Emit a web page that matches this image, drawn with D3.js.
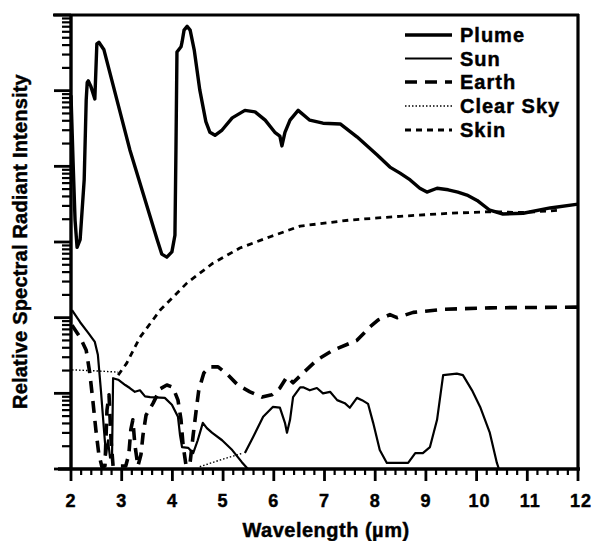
<!DOCTYPE html>
<html><head><meta charset="utf-8">
<script src="https://cdn.jsdelivr.net/npm/d3@7"></script>
<style>
html,body{margin:0;padding:0;background:#fff;}
svg{display:block;}
text{font-family:"Liberation Sans",Arial,Helvetica,sans-serif;font-weight:bold;fill:#000;stroke:#000;stroke-width:0.45px;}
</style></head>
<body><svg id="chart" width="594" height="541"></svg>
<script>
// ---- data (wavelength in µm, intensity given as log10 of relative intensity) ----
const xTickValues = [2,3,4,5,6,7,8,9,10,11,12];
const legendNames = ["Plume","Sun","Earth","Clear Sky","Skin"];

const plumeWl  = [2.00,2.04,2.08,2.12,2.18,2.26,2.30,2.32,2.34,2.39,2.47,2.51,2.55,2.65,3.16,3.70,3.79,3.89,3.99,4.05,4.07,4.09,4.17,4.19,4.23,4.29,4.35,4.43,4.54,4.66,4.74,4.84,4.98,5.18,5.43,5.63,5.83,6.02,6.12,6.16,6.22,6.32,6.48,6.71,6.97,7.31,7.64,8.04,8.29,8.49,8.69,8.88,9.02,9.22,9.44,9.63,9.81,10.01,10.26,10.52,10.92,11.45,12.00];
const plumeLogI= [4.94,4.08,3.29,2.93,3.03,3.82,4.88,5.11,5.13,5.06,4.89,5.62,5.64,5.54,4.22,3.03,2.84,2.80,2.87,3.09,4.22,5.51,5.58,5.64,5.80,5.85,5.80,5.54,5.01,4.59,4.45,4.41,4.48,4.64,4.74,4.72,4.61,4.45,4.40,4.27,4.45,4.61,4.74,4.61,4.57,4.56,4.39,4.15,3.99,3.91,3.82,3.71,3.66,3.71,3.69,3.66,3.62,3.55,3.42,3.37,3.38,3.45,3.50];

const sunWl    = [2.02,2.18,2.34,2.47,2.53,2.59,2.65,2.69,2.73,2.77,2.81,2.83,2.93,3.07,3.16,3.26,3.36,3.46,3.56,3.85,3.99,4.11,4.15,4.19,4.31,4.41,4.50,4.60,4.68,4.78,4.98,5.18,5.37,5.49,
                  null,
                  5.43,5.59,5.79,5.98,6.12,6.22,6.26,6.32,6.38,6.52,6.58,6.71,6.85,6.97,7.11,7.25,7.40,7.50,7.64,7.74,7.86,7.96,8.09,8.23,8.65,8.79,8.94,9.08,9.22,9.34,9.61,9.73,9.91,10.07,10.26,10.40,10.44];
const sunLogI  = [2.10,1.94,1.80,1.68,1.51,1.04,0.52,0.19,0.38,0.15,0.19,1.20,1.18,1.11,1.07,1.02,1.04,0.96,0.95,0.94,0.85,0.69,0.45,0.29,0.28,0.21,0.38,0.61,0.54,0.48,0.38,0.25,0.09,0.00,
                  null,
                  0.21,0.42,0.69,0.82,0.81,0.61,0.48,0.65,0.95,1.08,1.08,1.04,1.07,1.00,1.02,0.91,0.87,0.81,0.94,0.91,0.86,0.61,0.25,0.08,0.08,0.21,0.21,0.29,0.65,1.24,1.26,1.24,1.04,0.82,0.48,0.08,0.00];

const earthWl  = [2.02,2.18,2.30,2.37,2.43,2.49,2.55,2.61,2.67,2.71,2.75,2.79,2.83,3.08,3.14,3.18,3.22,3.26,3.32,3.38,3.42,3.48,3.62,3.76,3.89,4.01,4.11,4.17,4.21,4.27,4.35,4.41,4.47,4.52,4.62,4.74,4.90,5.10,5.29,5.53,5.77,5.96,6.12,6.26,6.38,6.58,6.85,7.17,7.64,7.90,8.06,8.29,8.43,8.75,9.34,10.26,12.00];
const earthLogI= [1.90,1.74,1.57,1.27,0.91,0.52,0.19,0.03,0.04,0.78,0.98,0.38,0.04,0.04,0.19,0.52,0.65,0.32,0.04,0.19,0.45,0.71,0.87,1.06,1.11,1.08,0.91,0.65,0.32,0.04,0.09,0.45,0.78,1.04,1.27,1.35,1.35,1.24,1.11,1.02,0.95,0.98,1.07,1.22,1.14,1.27,1.44,1.57,1.70,1.88,1.97,2.04,2.00,2.07,2.11,2.13,2.14];

const clearWl  = [2.02,2.40,2.93,null,4.54,4.90,5.39];
const clearLogI= [1.31,1.30,1.28,null,0.03,0.11,0.21];

const skinWl   = [2.93,3.10,3.36,3.76,4.29,4.80,5.33,5.93,6.52,7.50,8.49,9.48,10.26,10.90,11.65];
const skinLogI = [1.24,1.40,1.74,2.10,2.46,2.72,2.92,3.07,3.21,3.29,3.34,3.38,3.40,3.39,3.42];

// ---- layout ----
const svg = d3.select("#chart");
const L = 71, R = 578, T = 15, B = 469;
const x = d3.scaleLinear().domain([2,12]).range([L,R]);
const y = d3.scaleLog().domain([1,1e6]).range([B,T]);

function pts(wl, lg){ return wl.map((w,i)=> (w===null? null : {w:w, v:Math.pow(10, lg[i])})); }
const line = d3.line().defined(d=>d!==null).x(d=>x(d.w)).y(d=>y(d.v));

const styles = {
  "Plume":     {w:3.4, dash:null},
  "Sun":       {w:2.2, dash:null},
  "Earth":     {w:3.6, dash:"12,8"},
  "Clear Sky": {w:1.4, dash:"1.5,2"},
  "Skin":      {w:2.8, dash:"6,5"}
};
const seriesData = {
  "Plume": pts(plumeWl, plumeLogI),
  "Sun": pts(sunWl, sunLogI),
  "Earth": pts(earthWl, earthLogI),
  "Clear Sky": pts(clearWl, clearLogI),
  "Skin": pts(skinWl, skinLogI)
};

// curves
["Clear Sky","Skin","Earth","Sun","Plume"].forEach(name=>{
  const s = styles[name];
  svg.append("path").datum(seriesData[name])
    .attr("d", line).attr("fill","none").attr("stroke","#000")
    .attr("stroke-width", s.w).attr("stroke-linejoin","round")
    .attr("stroke-dasharray", s.dash);
});

// x axis (bottom) with minor ticks
const xMinor = d3.range(2,12.001,0.2).filter(v=>Math.abs(v-Math.round(v))>1e-6);
const gx = svg.append("g");
gx.selectAll("line.minor").data(xMinor).join("line")
  .attr("x1",d=>x(d)).attr("x2",d=>x(d)).attr("y1",B).attr("y2",B+6)
  .attr("stroke","#000").attr("stroke-width",2.2);
gx.selectAll("line.major").data(xTickValues).join("line")
  .attr("x1",d=>x(d)).attr("x2",d=>x(d)).attr("y1",B).attr("y2",B+12)
  .attr("stroke","#000").attr("stroke-width",2.8);
gx.selectAll("text").data(xTickValues).join("text")
  .attr("x",d=>x(d)+ (d>=10?3:0)).attr("y",507).attr("text-anchor","middle")
  .attr("font-size",18).attr("letter-spacing",1).text(d=>d);

// y axis (left) log ticks
const yMajor = d3.range(0,7).map(e=>Math.pow(10,e));
const yMinor = [];
for(let e=0;e<6;e++){ for(let k=2;k<=9;k++) yMinor.push(k*Math.pow(10,e)); }
const gy = svg.append("g");
gy.selectAll("line.minor").data(yMinor).join("line")
  .attr("x1",L-9).attr("x2",L).attr("y1",d=>y(d)).attr("y2",d=>y(d))
  .attr("stroke","#000").attr("stroke-width",2.2);
gy.selectAll("line.major").data(yMajor).join("line")
  .attr("x1",L-17).attr("x2",L).attr("y1",d=>y(d)).attr("y2",d=>y(d))
  .attr("stroke","#000").attr("stroke-width",2.8);

// frame
svg.append("line").attr("x1",L).attr("x2",L).attr("y1",T).attr("y2",B+1).attr("stroke","#000").attr("stroke-width",3.4);
svg.append("line").attr("x1",L-13).attr("x2",R+2).attr("y1",B).attr("y2",B).attr("stroke","#000").attr("stroke-width",3.4);
svg.append("line").attr("x1",L-18).attr("x2",R+1).attr("y1",T).attr("y2",T).attr("stroke","#000").attr("stroke-width",3.2);
svg.append("line").attr("x1",R).attr("x2",R).attr("y1",T-1).attr("y2",B+1).attr("stroke","#000").attr("stroke-width",3.2);

// axis titles
svg.append("text").attr("x",326).attr("y",537).attr("text-anchor","middle")
  .attr("font-size",20).attr("letter-spacing",0.5).text("Wavelength (µm)");
svg.append("text").attr("transform","translate(27,241.5) rotate(-90)").attr("text-anchor","middle")
  .attr("font-size",20).attr("letter-spacing",0.2).text("Relative Spectral Radiant Intensity");

// legend
const legBase = [42,65.5,89,113,137];
const lg = svg.append("g");
legendNames.forEach((name,i)=>{
  const s = styles[name];
  lg.append("line").attr("x1",405).attr("x2",452).attr("y1",legBase[i]-7).attr("y2",legBase[i]-7)
    .attr("stroke","#000").attr("stroke-width",s.w).attr("stroke-dasharray",s.dash);
  lg.append("text").attr("x",460).attr("y",legBase[i]).attr("font-size",20)
    .attr("letter-spacing",1).text(name);
});
</script></body></html>
